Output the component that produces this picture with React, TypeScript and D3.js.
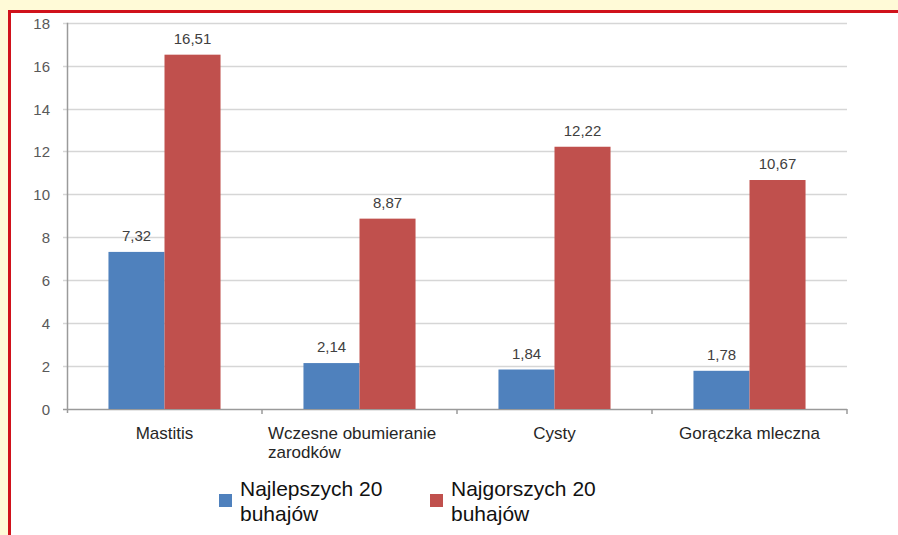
import * as d3 from 'd3'

const width = 898,
      height = 535,
      margin = { top: 22.7, right: 51, bottom: 126, left: 67 }

const categories = ['Mastitis', 'Wczesne obumieranie|zarodków', 'Cysty', 'Gorączka mleczna']
const seriesNames = ['Najlepszych 20|buhajów', 'Najgorszych 20|buhajów']
const best = [7.32, 2.14, 1.84, 1.78]
const worst = [16.51, 8.87, 12.22, 10.67]
const yTicks = [0, 2, 4, 6, 8, 10, 12, 14, 16, 18]
const colors = ['#4F81BD', '#C0504D']

const fmt = (v: number) => v.toFixed(2).replace('.', ',')

export default function App() {
  const plotBottom = height - margin.bottom
  const x = d3.scaleBand<string>()
    .domain(categories)
    .range([margin.left, width - margin.right])

  const xs = d3.scaleBand<string>()
    .domain(seriesNames)
    .range([0, x.bandwidth()])
    .paddingOuter(0.74)

  const y = d3.scaleLinear()
    .domain([0, 18])
    .range([plotBottom, margin.top])

  const series = [best, worst]
  const font = "'Liberation Sans', Arial, sans-serif"

  return (
    <svg width={width} height={height} style={{ position: 'fixed', top: 0, left: 0, background: '#FFFAD7' }}>
      <rect x={9.5} y={11.5} width={width + 10} height={height + 10} fill='#fff' stroke='#D0121B' strokeWidth={3} />

      {/* gridlines + y ticks */}
      <g className='y-axis'>
        {yTicks.map(t =>
          <g key={t} transform={`translate(0, ${Math.round(y(t)) + 0.5})`}>
            <line x1={margin.left - 4} x2={width - margin.right} stroke={t === 0 ? '#9a9a9a' : '#d6d6d6'} strokeWidth={1.5} />
            <text x={50} dy='0.35em' textAnchor='end' fontFamily={font} fontSize={15} fill='#595959'>{t}</text>
          </g>
        )}
        <line x1={margin.left + 0.5} x2={margin.left + 0.5} y1={margin.top} y2={plotBottom + 4} stroke='#9a9a9a' strokeWidth={1.5} />
      </g>

      {/* x ticks between categories */}
      <g className='x-ticks'>
        {categories.map(c =>
          <line key={c} x1={x(c)! + x.bandwidth()} x2={x(c)! + x.bandwidth()} y1={plotBottom} y2={plotBottom + 5} stroke='#9a9a9a' strokeWidth={1.5} />
        )}
      </g>

      {/* bars */}
      <g className='bars'>
        {categories.map((c, i) =>
          <g key={c} transform={`translate(${x(c)}, 0)`}>
            {seriesNames.map((s, j) => {
              const v = series[j][i]
              return (
                <g key={s}>
                  <rect x={xs(s)} y={y(v)} width={xs.bandwidth()} height={plotBottom - y(v)} fill={colors[j]} />
                  <text x={xs(s)! + xs.bandwidth() / 2} y={y(v) - 11} textAnchor='middle' fontFamily={font} fontSize={15} fill='#404040'>{fmt(v)}</text>
                </g>
              )
            })}
          </g>
        )}
      </g>

      {/* category labels */}
      <g className='x-labels'>
        {categories.map(c => {
          const lines = c.split('|')
          const cx = x(c)! + x.bandwidth() / 2
          if (lines.length === 1)
            return <text key={c} x={cx} y={439} textAnchor='middle' fontFamily={font} fontSize={17} fill='#262626'>{c}</text>
          return (
            <text key={c} x={x(c)! + 6} y={439} fontFamily={font} fontSize={17} fill='#262626'>
              {lines.map((l, k) => <tspan key={k} x={x(c)! + 6} dy={k === 0 ? 0 : 19}>{l}</tspan>)}
            </text>
          )
        })}
      </g>

      {/* legend */}
      <g className='legend'>
        {seriesNames.map((s, j) => {
          const lx = j === 0 ? 219 : 430
          return (
            <g key={s}>
              <rect x={lx} y={494} width={13} height={13} fill={colors[j]} />
              <text x={lx + 21} y={496} fontFamily={font} fontSize={21} fill='#111'>
                {s.split('|').map((l, k) => <tspan key={k} x={lx + 21} dy={k === 0 ? 0 : 25}>{l}</tspan>)}
              </text>
            </g>
          )
        })}
      </g>
    </svg>
  )
}
